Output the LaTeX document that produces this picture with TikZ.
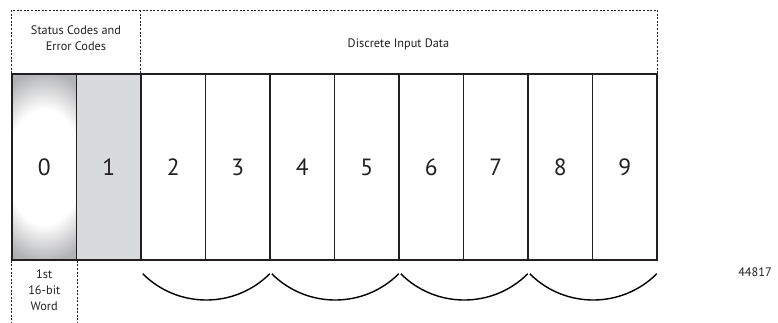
\documentclass[tikz,border=0pt]{standalone}
\usepackage{fontspec}
\setmainfont{PT Sans}
\usetikzlibrary{positioning}

\definecolor{linedark}{HTML}{231F20}
\definecolor{cellgray}{HTML}{B1B2B4}
\definecolor{cellpale}{HTML}{D9DADB}
\pgfdeclareradialshading{cellglow}{\pgfpoint{0bp}{0bp}}{color(0bp)=(white); color(15bp)=(white); color(25bp)=(cellgray); color(50bp)=(cellgray)}

\begin{document}
\begin{tikzpicture}[x=1pt, y=1pt,
  cellbox/.style={draw=linedark, line width=1.5pt, minimum width=64.5pt, minimum height=186pt,
    inner sep=0pt, text=linedark, font=\fontsize{23.5}{28}\selectfont},
  dotline/.style={draw=linedark, line width=1.2pt, dash pattern=on 2pt off 1.6pt},
  tag/.style={align=center, text=linedark, font=\fontsize{12.3}{16}\selectfont},
  brace/.style={draw=black, line width=1.4pt}]
  \useasboundingbox (0,0) rectangle (778,322);

  % the words
  \node[cellbox, fill=cellgray, path picture={
      \shade[shading=cellglow] (path picture bounding box.center) ellipse (62 and 96);}]
    (c0) at (44.25,155) {0};
  \node[cellbox, fill=cellpale] (c1) at (108.75,155) {1};
  \foreach \i in {2,...,9}
    \node[cellbox] (c\i) at ({44.25+64.5*\i},155) {\i};

  % header boxes
  \draw[dotline] (c0.north west) -- ++(0,63) -| (c9.north east);
  \draw[dotline] ([xshift=-1pt]c1.north east) -- ++(0,63);
  \node[tag] (status) at (76,284) {Status Codes and\\Error Codes};
  \node[tag] (discrete) at (398.5,278) {Discrete Input Data};

  % first word marker
  \draw[dotline] (c0.south west) -- ++(0,-62);
  \draw[dotline] (c0.south east) -- ++(0,-62);
  \node[tag] (word) at (44.25,32) {1st\\16-bit\\Word};

  % pairs
  \foreach \a/\b in {2/3,4/5,6/7,8/9}
    \draw[brace] ([xshift=2.5pt,yshift=-13pt]c\a.south west) to[bend right=45]
      ([xshift=-1pt,yshift=-13pt]c\b.south east);

  \node[tag] (fig) at (755,50) {44817};
\end{tikzpicture}
\end{document}
